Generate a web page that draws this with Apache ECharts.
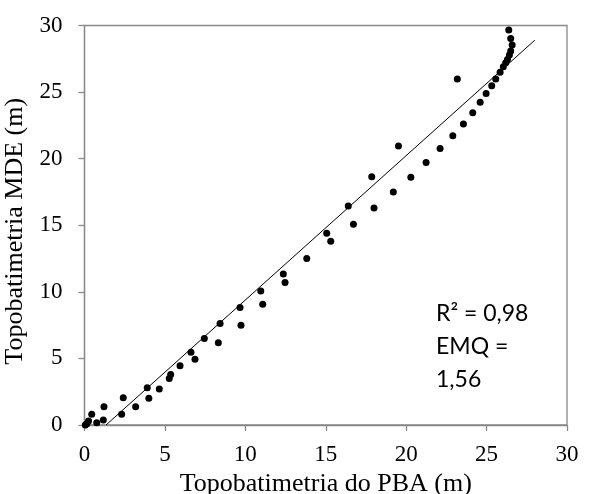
<!DOCTYPE html>
<html>
<head>
<meta charset="utf-8">
<script src="https://cdn.jsdelivr.net/npm/echarts@6/dist/echarts.min.js"></script>
<style>
  html, body { margin: 0; padding: 0; background: #fff; }
  #chart { width: 592px; height: 494px; }
</style>
</head>
<body>
<div id="chart"></div>
<script>
// PBA (x) vs MDE (y), metres
const pbaValues = [
  0.05, 0.15, 0.25, 0.45, 0.76, 1.17, 1.21, 2.31, 2.41, 3.18, 3.9, 4.0, 4.65,
  5.27, 5.36, 5.94, 6.62, 6.87, 7.45, 8.32, 8.43, 9.67, 9.73, 10.96, 11.08,
  12.36, 12.47, 13.82, 15.06, 15.31, 16.4, 16.72, 17.86, 18.0, 19.2, 19.52,
  20.29, 21.24, 22.11, 22.9, 23.18, 23.56, 24.14, 24.6, 24.97, 25.32, 25.57,
  25.84, 26.04, 26.19, 26.3, 26.42, 26.5, 26.59, 26.5, 26.38
];
const mdeValues = [
  0.0, 0.1, 0.3, 0.8, 0.17, 0.38, 1.37, 0.8, 2.05, 1.37, 2.8, 2.0, 2.7,
  3.5, 3.8, 4.45, 5.46, 4.93, 6.5, 6.18, 7.63, 8.83, 7.5, 10.06, 9.06,
  11.34, 10.71, 12.51, 14.39, 13.79, 16.44, 15.07, 18.64, 16.29, 17.49, 20.95,
  18.6, 19.72, 20.77, 21.72, 25.98, 22.6, 23.45, 24.23, 24.9, 25.48, 25.98,
  26.48, 26.9, 27.2, 27.45, 27.78, 28.08, 28.53, 29.03, 29.66
];
// trend line end points
const fitX = [1.34, 28.0];
const fitY = [0, 28.9];
const xTicks = [0, 5, 10, 15, 20, 25, 30];
const yTicks = [0, 5, 10, 15, 20, 25, 30];
const statLines = ["R² = 0,98", "EMQ =", "1,56"];

const chart = echarts.init(document.getElementById("chart"));

const points = pbaValues.map((v, i) => [v, mdeValues[i]]);
const fitLine = fitX.map((v, i) => [v, fitY[i]]);

const axisGray = "#898989";
const serif = "'Liberation Serif', 'DejaVu Serif', serif";

function makeAxis(ticks, name, gap) {
  return {
    type: "value",
    min: ticks[0],
    max: ticks[ticks.length - 1],
    interval: ticks[1] - ticks[0],
    name: name,
    nameLocation: "middle",
    nameGap: gap,
    nameTextStyle: { fontFamily: serif, fontSize: 26, color: "#000" },
    axisLine: { show: true, lineStyle: { color: axisGray, width: 1.3 } },
    axisTick: { show: true, inside: false, length: 6, lineStyle: { color: axisGray, width: 1.3 } },
    axisLabel: { fontFamily: serif, fontSize: 23, color: "#000" },
    splitLine: { show: false },
  };
}

const xAxis = makeAxis(xTicks, "Topobatimetria do PBA (m)", 40);
xAxis.axisLabel.margin = 18;
const yAxis = makeAxis(yTicks, "Topobatimetria MDE (m)", 51);
yAxis.axisLabel.margin = 22;
// nudge the rotated title a little downward
yAxis.nameTextStyle.padding = [0, 12, 0, 0];

chart.setOption({
  animation: false,
  backgroundColor: "#fff",
  grid: {
    left: 84.5,
    right: 25,
    top: 25.5,
    bottom: 69,
    containLabel: false,
    outerBoundsMode: "none",
    show: true,
    borderColor: axisGray,
    borderWidth: 1.3,
  },
  xAxis: xAxis,
  yAxis: yAxis,
  series: [
    {
      type: "line",
      data: fitLine,
      symbol: "none",
      lineStyle: { color: "#000", width: 1 },
      z: 2,
    },
    {
      type: "scatter",
      data: points,
      symbol: "circle",
      symbolSize: 7,
      itemStyle: { color: "#000", opacity: 1 },
      z: 3,
    },
  ],
  graphic: statLines.map((t, i) => ({
    type: "text",
    x: 436,
    y: 314 + i * 33,
    style: {
      text: t,
      fontFamily: "Lato, 'Open Sans', sans-serif",
      fontSize: 23,
      fill: "#000",
      verticalAlign: "middle",
    },
  })),
});
</script>
</body>
</html>
